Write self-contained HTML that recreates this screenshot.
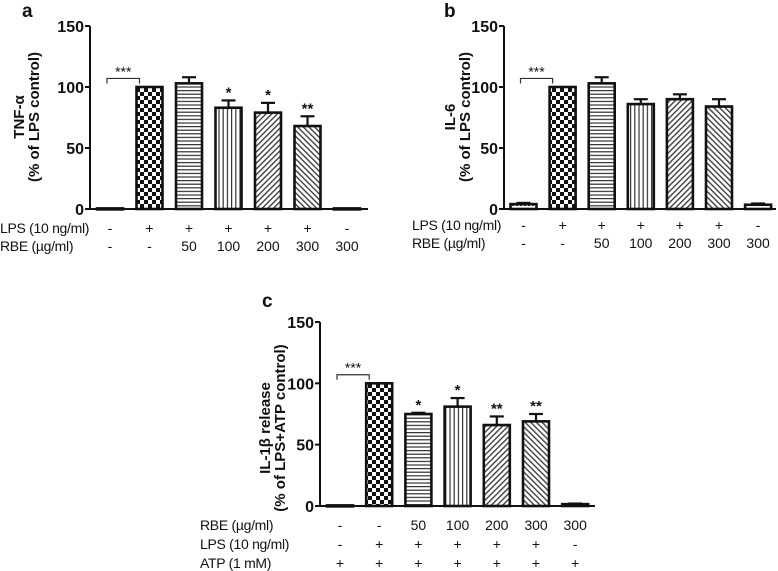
<!DOCTYPE html>
<html><head><meta charset="utf-8"><style>
html,body{margin:0;padding:0;background:#fff;}
svg{display:block;font-family:"Liberation Sans",Arial,sans-serif;}
</style></head><body>
<svg id="fig" width="778" height="571" viewBox="0 0 778 571" xmlns="http://www.w3.org/2000/svg">
<defs>
<pattern id="p-check" width="8" height="8" patternUnits="userSpaceOnUse"><rect width="8" height="8" fill="#fff"/><rect width="4" height="4" fill="#111"/><rect x="4" y="4" width="4" height="4" fill="#111"/></pattern>
<pattern id="p-hor" width="4" height="3.6" patternUnits="userSpaceOnUse"><rect width="4" height="3.6" fill="#fff"/><rect y="0" width="4" height="1.2" fill="#333"/></pattern>
<pattern id="p-ver" width="4.2" height="4" patternUnits="userSpaceOnUse"><rect width="4.2" height="4" fill="#fff"/><rect x="0" width="1.2" height="4" fill="#333"/></pattern>
<pattern id="p-fwd" width="4" height="4" patternUnits="userSpaceOnUse" patternTransform="rotate(45)"><rect width="4" height="4" fill="#fff"/><rect width="1.3" height="4" fill="#333"/></pattern>
<pattern id="p-bwd" width="4" height="4" patternUnits="userSpaceOnUse" patternTransform="rotate(-45)"><rect width="4" height="4" fill="#fff"/><rect width="1.3" height="4" fill="#333"/></pattern>
<pattern id="p-dot" width="4" height="4" patternUnits="userSpaceOnUse"><rect width="4" height="4" fill="#fff"/><rect width="2" height="2" fill="#333"/></pattern>
</defs>
</svg>
<script>
// ---- data ----
const aValues = [0.5, 100, 103, 83, 79, 68, 0.5];
const aErrors = [0, 0, 5, 6, 8, 8, 0];
const aStars = ["", "", "", "*", "*", "**", ""];
const bValues = [4, 100, 103, 86, 90, 84, 3.5];
const bErrors = [1, 0, 5, 4, 4, 6, 1];
const bStars = ["", "", "", "", "", "", ""];
const cValues = [0.5, 100, 75, 81, 66, 69, 1.5];
const cErrors = [0, 0, 1, 7, 7, 6, 0.5];
const cStars = ["", "", "*", "*", "**", "**", ""];
const yTicks = [0, 50, 100, 150];
const rowLPS = ["-", "+", "+", "+", "+", "+", "-"];
const rowRBE = ["-", "-", "50", "100", "200", "300", "300"];
const rowATP = ["+", "+", "+", "+", "+", "+", "+"];
const patternsAB = ["p-dot", "p-check", "p-hor", "p-ver", "p-fwd", "p-bwd", "p-dot"];

const svg = document.getElementById('fig');
const NS = "http://www.w3.org/2000/svg";
function mk(tag, attrs, parent) {
  const e = document.createElementNS(NS, tag);
  for (const k in attrs) e.setAttribute(k, attrs[k]);
  (parent || svg).appendChild(e);
  return e;
}
function txt(x, y, s, size, anchor, weight, parent) {
  const t = mk('text', {x: x, y: y, 'font-size': size, 'text-anchor': anchor || 'start', 'font-weight': weight || 'normal', fill: '#111'}, parent);
  t.textContent = s;
  return t;
}

function panel(cfg) {
  const g = mk('g', {});
  
  
  const y = v => cfg.y0 - v * (cfg.y0 - cfg.y150) / 150;
  const x = i => cfg.x0 + i * cfg.step;
  const L = txt(cfg.letterX, cfg.letterY, cfg.letter, 19, 'start', 'bold', g);
  
  
  const ax = mk('g', {}, g);
  
  
  mk('line', {x1: cfg.ax, x2: cfg.ax, y1: y(150), y2: cfg.y0, stroke: '#111', 'stroke-width': 2}, ax);
  yTicks.forEach(v => {
    mk('line', {x1: cfg.ax - 5, x2: cfg.ax, y1: y(v), y2: y(v), stroke: '#111', 'stroke-width': 2}, ax);
    const t = txt(cfg.ax - 6, y(v) + 6, String(v), 16, 'end', 'bold', ax);
    
    
  });
  const xl = mk('line', {x1: cfg.ax, x2: cfg.axEnd, y1: cfg.y0, y2: cfg.y0, stroke: '#111', 'stroke-width': 2}, g);
  
  
  const tg = mk('g', {transform: 'translate(' + cfg.titleX + ',' + cfg.titleY + ') rotate(-90)'}, g);
  
  
  txt(0, 0, cfg.title1, 15, 'middle', 'bold', tg);
  txt(0, cfg.titleGap, cfg.title2, 15, 'middle', 'bold', tg);
  const w = 26;
  cfg.values.forEach((v, i) => {
    const cx = x(i);
    const top = y(v);
    const r = mk('rect', {x: cx - w / 2, y: top, width: w, height: Math.max(cfg.y0 - top, 1), fill: 'url(#' + cfg.patterns[i] + ')', stroke: '#111', 'stroke-width': 2.6}, g);
    
    
    const e = cfg.errors[i];
    if (e > 0) {
      const eg = mk('g', {stroke: '#111', 'stroke-width': 2.2}, g);
      
      
      mk('line', {x1: cx, x2: cx, y1: top, y2: y(v + e)}, eg);
      mk('line', {x1: cx - 7, x2: cx + 7, y1: y(v + e), y2: y(v + e)}, eg);
    }
    if (cfg.stars[i]) {
      const s = txt(cx, y(v + e) - 3, cfg.stars[i], 15, 'middle', 'bold', g);
      
      
    }
  });
  const bg = mk('g', {stroke: '#333', 'stroke-width': 1.2, fill: 'none'}, g);
  
  
  const by = y(107), bx1 = x(0) - 3, bx2 = x(1) - 10;
  mk('path', {d: 'M' + bx1 + ' ' + (by + 5) + 'V' + by + 'H' + bx2 + 'V' + (by + 5)}, bg);
  const st = txt((bx1 + bx2) / 2, by - 2, '***', 14, 'middle', 'normal', g);
  
  
  cfg.rows.forEach((row, ri) => {
    const rg = mk('g', {}, g);
    
    
    const ry = cfg.rowY[ri];
    const lt = txt(cfg.labelX, ry, row.label, 14, 'start', 'normal', rg);
    lt.setAttribute('letter-spacing', '-0.3');
    row.vals.forEach((s, i) => txt(x(i), ry, s, 14, 'middle', 'normal', rg));
  });
}

panel({name: 'panel-a-tnf', letter: 'a', letterX: 22, letterY: 17, ax: 90, axEnd: 368, y0: 209, y150: 26,
  x0: 110, step: 39.5, values: aValues, errors: aErrors, stars: aStars, patterns: patternsAB,
  title1: 'TNF-\u03b1', title2: '(% of LPS control)', titleX: 24, titleGap: 15, titleY: 117,
  labelX: 0, rowY: [233, 251], rows: [{key: 'lps', label: 'LPS (10 ng/ml)', vals: rowLPS}, {key: 'rbe', label: 'RBE (\u00b5g/ml)', vals: rowRBE}]});

panel({name: 'panel-b-il6', letter: 'b', letterX: 444, letterY: 17, ax: 504, axEnd: 776, y0: 209, y150: 26,
  x0: 523.5, step: 39.1, values: bValues, errors: bErrors, stars: bStars, patterns: patternsAB,
  title1: 'IL-6', title2: '(% of LPS control)', titleX: 455, titleGap: 15, titleY: 117,
  labelX: 412, rowY: [230, 248], rows: [{key: 'lps', label: 'LPS (10 ng/ml)', vals: rowLPS}, {key: 'rbe', label: 'RBE (\u00b5g/ml)', vals: rowRBE}]});

panel({name: 'panel-c-il1b', letter: 'c', letterX: 262, letterY: 307, ax: 320, axEnd: 595, y0: 506, y150: 322,
  x0: 340, step: 39.2, values: cValues, errors: cErrors, stars: cStars,
  patterns: ["p-dot", "p-check", "p-hor", "p-ver", "p-fwd", "p-bwd", "p-dot"],
  title1: 'IL-1\u03b2 release', title2: '(% of LPS+ATP control)', titleX: 270, titleGap: 15, titleY: 428,
  labelX: 200, rowY: [530, 549, 568], rows: [{key: 'rbe', label: 'RBE (\u00b5g/ml)', vals: rowRBE}, {key: 'lps', label: 'LPS (10 ng/ml)', vals: rowLPS}, {key: 'atp', label: 'ATP (1 mM)', vals: rowATP}]});
</script>
</body></html>
